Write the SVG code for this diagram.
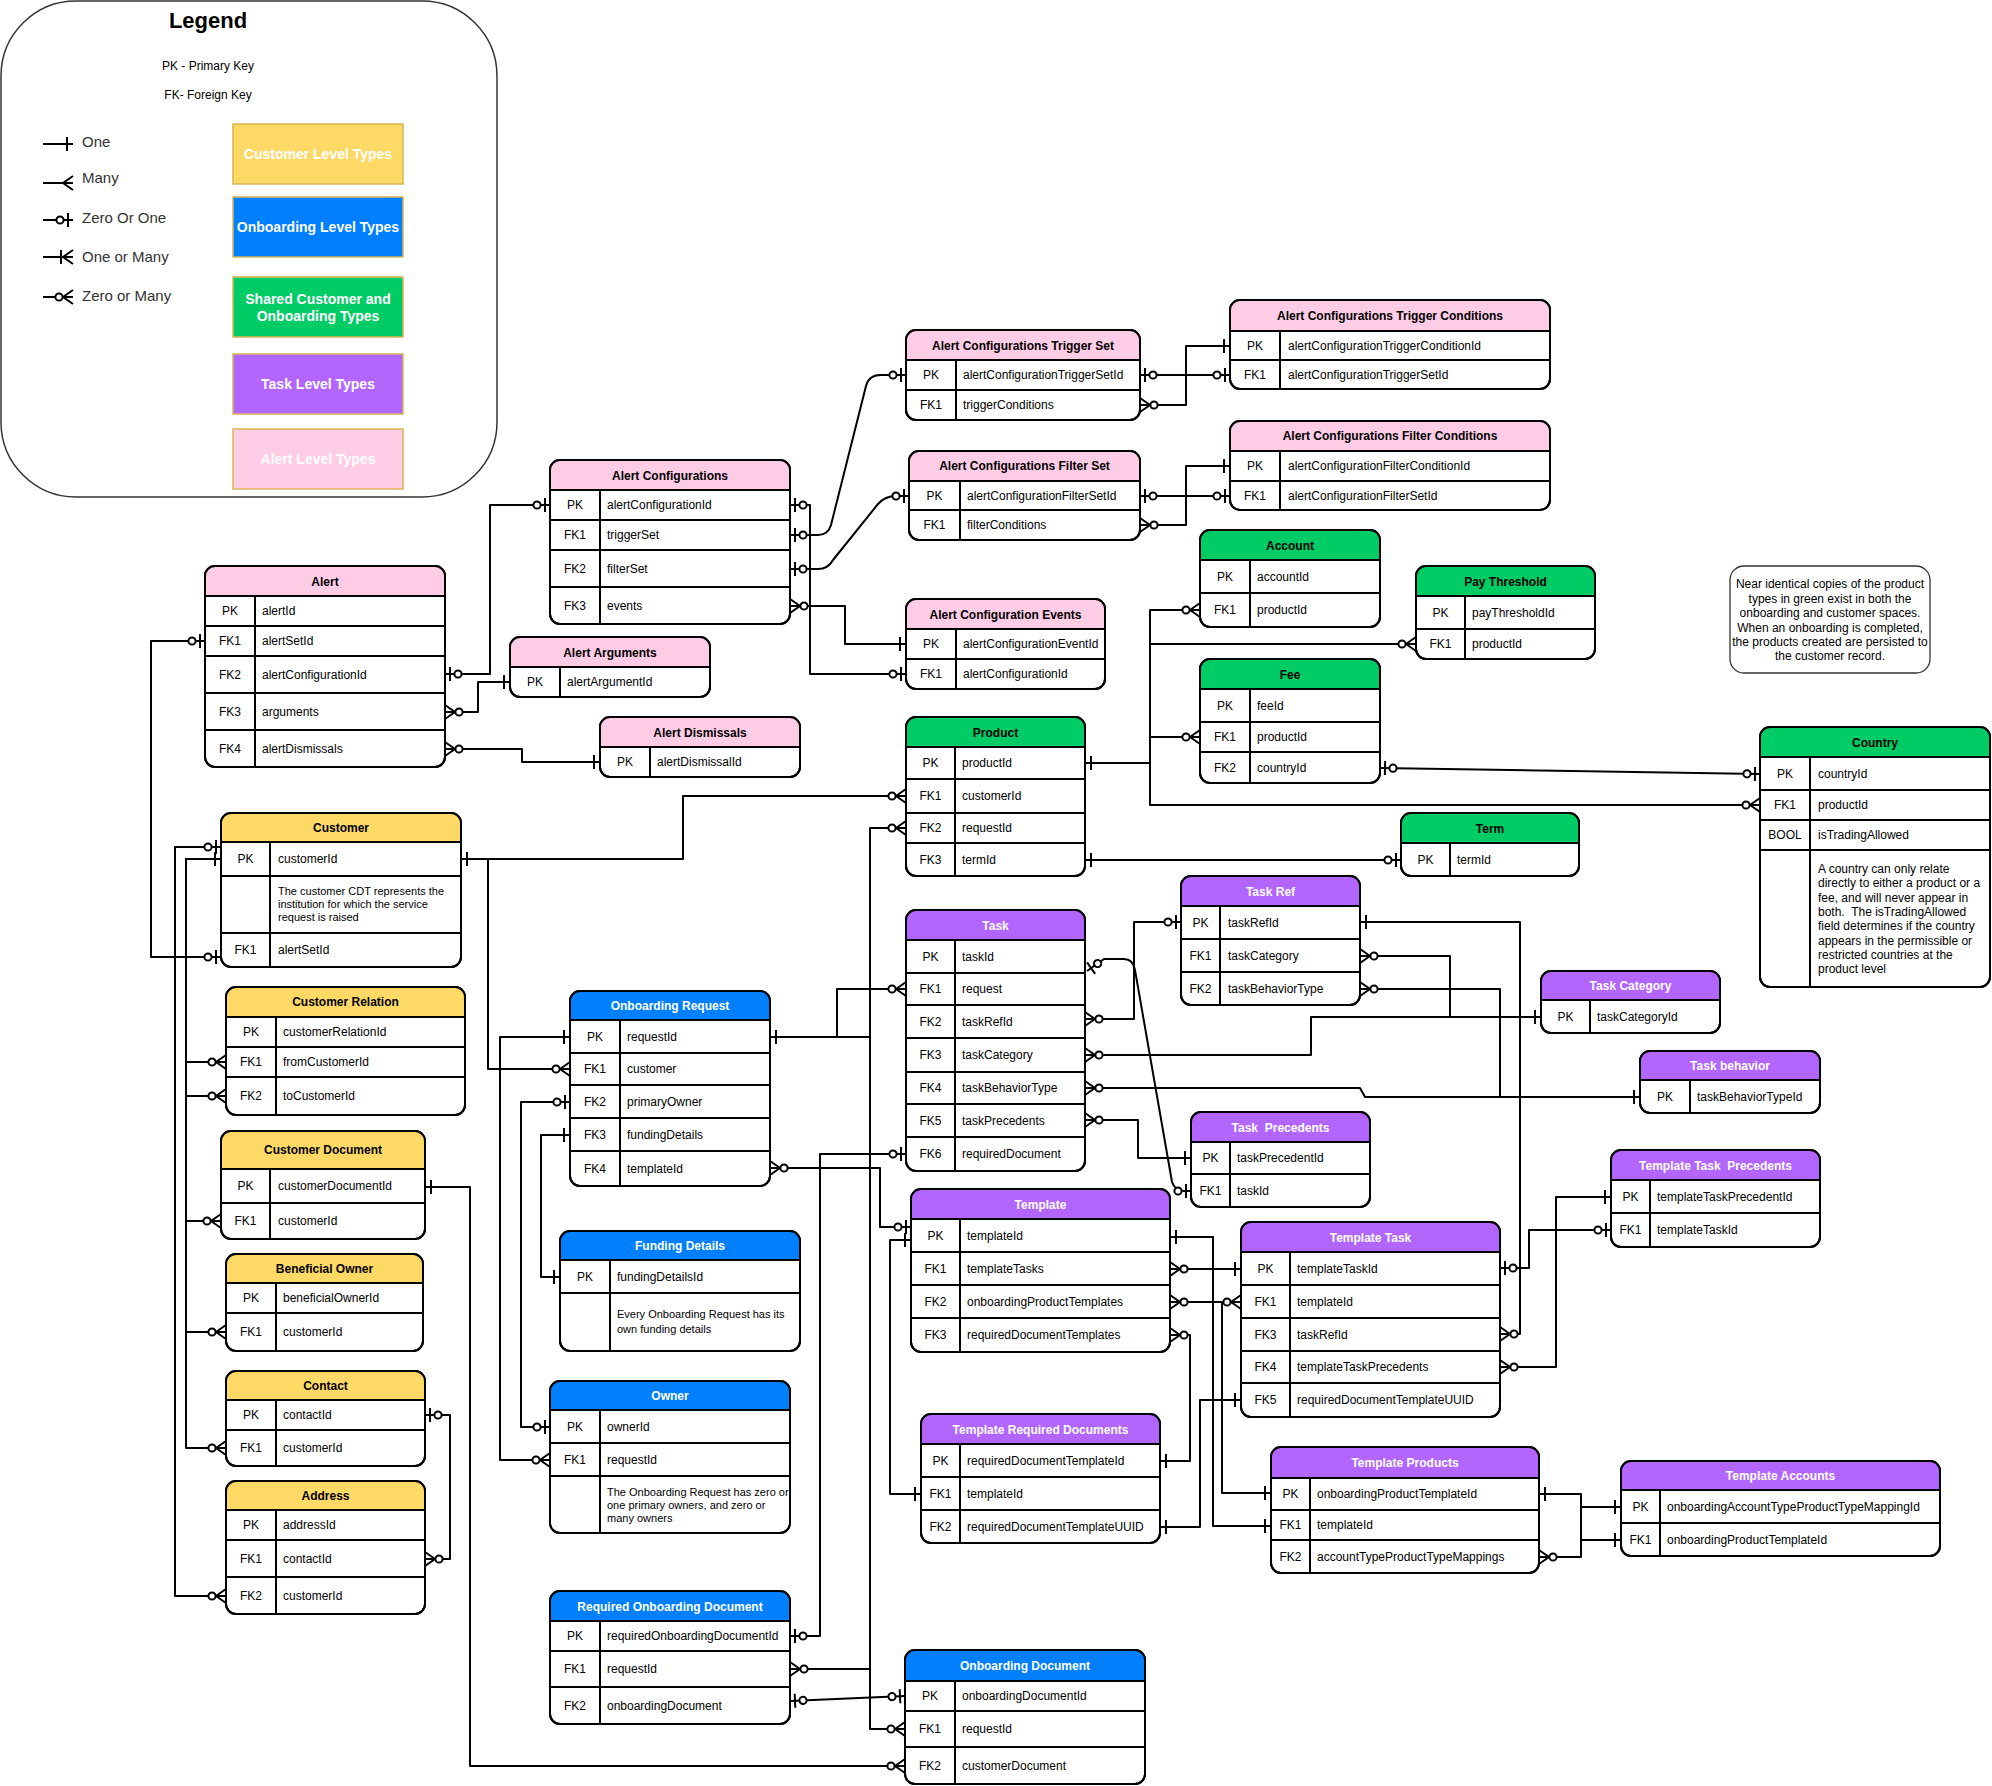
<svg xmlns="http://www.w3.org/2000/svg" width="1992" height="1786" viewBox="0 0 1992 1786">
<style>
.tb{fill:#fff;stroke:#000;stroke-width:2}
.ol{fill:none;stroke:#000;stroke-width:2}
.ln{fill:none;stroke:#000;stroke-width:2}
.pk{fill:#FFCCE6}.gr{fill:#00CC66}.ye{fill:#FFD966}.bl{fill:#007FFF}.pu{fill:#B266FF}
text{font-family:"Liberation Sans",Arial,sans-serif;font-size:12px;fill:#000}
.h{font-weight:bold;text-anchor:middle}
.hw{font-weight:bold;text-anchor:middle;fill:#fff}
.k{text-anchor:middle}
.d{font-size:11px}
.cn{fill:none;stroke:#000;stroke-width:2;stroke-linejoin:round}
.s1{marker-start:url(#m1)}.s01{marker-start:url(#m01)}.s0n{marker-start:url(#m0n)}
.e1{marker-end:url(#m1)}.e01{marker-end:url(#m01)}.e0n{marker-end:url(#m0n)}
.lgb{stroke:#D6B656;stroke-width:1.5}
.lgt{font-size:14px;font-weight:bold;fill:#fff;text-anchor:middle}
.lgl{font-size:15px;fill:#333}
.ttl{font-size:22px;font-weight:bold;text-anchor:middle}
</style>
<defs>
<marker id="m1" viewBox="-22 -10 24 20" refX="0" refY="0" markerWidth="24" markerHeight="20" markerUnits="userSpaceOnUse" orient="auto-start-reverse">
<path d="M-6,-7V7" fill="none" stroke="#000" stroke-width="2"/>
</marker>
<marker id="m01" viewBox="-22 -10 24 20" refX="0" refY="0" markerWidth="24" markerHeight="20" markerUnits="userSpaceOnUse" orient="auto-start-reverse">
<path d="M-5,-7V7" fill="none" stroke="#000" stroke-width="2"/>
<circle cx="-13" cy="0" r="3.6" fill="#fff" stroke="#000" stroke-width="2"/>
</marker>
<marker id="m0n" viewBox="-22 -10 24 20" refX="0" refY="0" markerWidth="24" markerHeight="20" markerUnits="userSpaceOnUse" orient="auto-start-reverse">
<path d="M0,-7L-10,0L0,7" fill="none" stroke="#000" stroke-width="2"/>
<circle cx="-14" cy="0" r="3.6" fill="#fff" stroke="#000" stroke-width="2"/>
</marker>
<marker id="mn" viewBox="-22 -10 24 20" refX="0" refY="0" markerWidth="24" markerHeight="20" markerUnits="userSpaceOnUse" orient="auto-start-reverse">
<path d="M0,-7L-10,0L0,7" fill="none" stroke="#000" stroke-width="2"/>
</marker>
<marker id="m1n" viewBox="-22 -10 24 20" refX="0" refY="0" markerWidth="24" markerHeight="20" markerUnits="userSpaceOnUse" orient="auto-start-reverse">
<path d="M0,-7L-10,0L0,7M-12,-7V7" fill="none" stroke="#000" stroke-width="2"/>
</marker>
</defs>

<g id="legend">
<rect x="1" y="1" width="496" height="496" rx="75" fill="#fff" stroke="#333" stroke-width="1.5"/>
<text class="ttl" x="208" y="28">Legend</text>
<text x="208" y="70" text-anchor="middle" fill="#222">PK - Primary Key</text>
<text x="208" y="99" text-anchor="middle" fill="#222">FK- Foreign Key</text>
<path class="cn" d="M43,144H73" marker-end="url(#m1)"/>
<path class="cn" d="M43,183H73" marker-end="url(#mn)"/>
<path class="cn" d="M43,220H73" marker-end="url(#m01)"/>
<path class="cn" d="M43,257H73" marker-end="url(#m1n)"/>
<path class="cn" d="M43,297H73" marker-end="url(#m0n)"/>
<text class="lgl" x="82" y="147">One</text>
<text class="lgl" x="82" y="183">Many</text>
<text class="lgl" x="82" y="223">Zero Or One</text>
<text class="lgl" x="82" y="262">One or Many</text>
<text class="lgl" x="82" y="301">Zero or Many</text>
<rect class="ye lgb" x="233" y="124" width="170" height="60"/>
<text class="lgt" x="318" y="159">Customer Level Types</text>
<rect class="bl lgb" x="233" y="197" width="170" height="60"/>
<text class="lgt" x="318" y="232">Onboarding Level Types</text>
<rect class="gr lgb" x="233" y="277" width="170" height="60"/>
<text class="lgt" x="318" y="304">Shared Customer and</text>
<text class="lgt" x="318" y="321">Onboarding Types</text>
<rect class="pu lgb" x="233" y="354" width="170" height="60"/>
<text class="lgt" x="318" y="389">Task Level Types</text>
<rect class="pk lgb" x="233" y="429" width="170" height="60"/>
<text class="lgt" x="318" y="464">Alert Level Types</text>
</g>

<g id="connectors">
<path class="cn s01 e01" d="M445,674H490V505H550"/>
<path class="cn s0n e1" d="M445,712H478V682H510"/>
<path class="cn s0n e1" d="M445,749H522V762H600"/>
<path class="cn s01 e01" d="M205,641H151V957H221"/>
<path class="cn s01 e01" d="M790,505H810V674H906"/>
<path class="cn s01 e01" d="M790,535H818Q828,535 831,525L866,386Q869,375 880,375H906"/>
<path class="cn s01 e01" d="M790,569H818Q828,569 833,560L878,504Q885,496 896,496H909"/>
<path class="cn s0n e1" d="M790,606H845V644H906"/>
<path class="cn s01 e01" d="M1140,375H1230"/>
<path class="cn s0n e1" d="M1140,405H1186V346H1230"/>
<path class="cn s01 e01" d="M1140,496H1230"/>
<path class="cn s0n e1" d="M1140,525H1186V466H1230"/>
<path class="cn s1 e0n" d="M1085,763H1150V610H1200"/>
<path class="cn s1 e0n" d="M1085,763H1150V644H1416"/>
<path class="cn s1 e0n" d="M1085,763H1150V737H1200"/>
<path class="cn s1 e0n" d="M1085,763H1150V805H1760"/>
<path class="cn s01 e01" d="M1380,768L1760,774"/>
<path class="cn s1 e01" d="M1085,860H1401"/>
<path class="cn s1 e0n" d="M461,859H683V796H906"/>
<path class="cn s1 e0n" d="M461,859H488V1069H570"/>
<path class="cn s1 e0n" d="M221,859H186V1062H226"/>
<path class="cn s1 e0n" d="M221,859H186V1096H226"/>
<path class="cn s1 e0n" d="M221,859H186V1221H221"/>
<path class="cn s1 e0n" d="M221,859H186V1332H226"/>
<path class="cn s1 e0n" d="M221,859H186V1448H226"/>
<path class="cn s01 e0n" d="M221,847H175V1596H226"/>
<path class="cn s01 e0n" d="M425,1415H450V1559H425"/>
<path class="cn s1 e0n" d="M425,1187H470V1766H905"/>
<path class="cn s1 e0n" d="M770,1037H837V989H906"/>
<path class="cn s1 e0n" d="M770,1037H870V828H906"/>
<path class="cn s1 e0n" d="M770,1037H870V1669H790"/>
<path class="cn s1 e0n" d="M770,1037H870V1729H905"/>
<path class="cn s1 e0n" d="M570,1037H500V1460H550"/>
<path class="cn s01 e01" d="M570,1102H521V1427H550"/>
<path class="cn s1 e1" d="M570,1135H541V1277H560"/>
<path class="cn s0n e01" d="M770,1168H880V1227H911"/>
<path class="cn s01 e01" d="M790,1636H820V1154H906"/>
<path class="cn s01 e01" d="M790,1701L905,1696"/>
<path class="cn s1 e1" d="M911,1240H890V1494H921"/>
<path class="cn s0n e01" d="M1085,1019H1134V922H1181"/>
<path class="cn s01 e01" d="M1087,971L1104,959H1124Q1133,959 1135,970L1172,1182Q1175,1191 1184,1191H1191"/>
<path class="cn s0n e1" d="M1085,1120H1138V1158H1191"/>
<path class="cn s0n e1" d="M1085,1055H1311V1017H1541"/>
<path class="cn s0n e1" d="M1085,1088H1360L1365,1097H1640"/>
<path class="cn s0n e1" d="M1360,956H1450V1017H1541"/>
<path class="cn s0n e1" d="M1360,989H1500V1097H1640"/>
<path class="cn s1 e0n" d="M1360,922H1520V1334H1500"/>
<path class="cn s01 e01" d="M1500,1268H1529V1230H1611"/>
<path class="cn s0n e1" d="M1500,1367H1556V1197H1611"/>
<path class="cn s1 e1" d="M1170,1237H1213V1526H1271"/>
<path class="cn s1 e0n" d="M1170,1237H1213V1302H1241"/>
<path class="cn s0n e1" d="M1170,1302H1222V1493H1271"/>
<path class="cn s0n e1" d="M1170,1269H1241"/>
<path class="cn s0n e1" d="M1170,1335H1190V1461H1160"/>
<path class="cn s1 e1" d="M1160,1527H1200V1400H1241"/>
<path class="cn s1 e1" d="M1539,1494H1581V1540H1621"/>
<path class="cn s0n e1" d="M1539,1557H1581V1507H1621"/>
</g>

<g id="alert-configurations-trigger-set">
<rect class="tb" x="906" y="330" width="234" height="90" rx="10"/>
<path class="pk" d="M906,360V340Q906,330 916,330H1130Q1140,330 1140,340V360Z"/>
<path class="ln" d="M906,360H1140M906,390H1140M956,360V420"/>
<rect class="ol" x="906" y="330" width="234" height="90" rx="10"/>
<text class="h" x="1023" y="350">Alert Configurations Trigger Set</text>
<text class="k" x="931" y="379">PK</text><text x="963" y="379">alertConfigurationTriggerSetId</text>
<text class="k" x="931" y="409">FK1</text><text x="963" y="409">triggerConditions</text>
</g>

<g id="alert-configurations-trigger-conditions">
<rect class="tb" x="1230" y="300" width="320" height="89" rx="10"/>
<path class="pk" d="M1230,331V310Q1230,300 1240,300H1540Q1550,300 1550,310V331Z"/>
<path class="ln" d="M1230,331H1550M1230,360H1550M1280,331V389"/>
<rect class="ol" x="1230" y="300" width="320" height="89" rx="10"/>
<text class="h" x="1390" y="320">Alert Configurations Trigger Conditions</text>
<text class="k" x="1255" y="350">PK</text><text x="1288" y="350">alertConfigurationTriggerConditionId</text>
<text class="k" x="1255" y="379">FK1</text><text x="1288" y="379">alertConfigurationTriggerSetId</text>
</g>

<g id="alert-configurations-filter-set">
<rect class="tb" x="909" y="451" width="231" height="89" rx="10"/>
<path class="pk" d="M909,481V461Q909,451 919,451H1130Q1140,451 1140,461V481Z"/>
<path class="ln" d="M909,481H1140M909,510H1140M960,481V540"/>
<rect class="ol" x="909" y="451" width="231" height="89" rx="10"/>
<text class="h" x="1024.5" y="470">Alert Configurations Filter Set</text>
<text class="k" x="934.5" y="500">PK</text><text x="967" y="500">alertConfigurationFilterSetId</text>
<text class="k" x="934.5" y="529">FK1</text><text x="967" y="529">filterConditions</text>
</g>

<g id="alert-configurations-filter-conditions">
<rect class="tb" x="1230" y="421" width="320" height="89" rx="10"/>
<path class="pk" d="M1230,451V431Q1230,421 1240,421H1540Q1550,421 1550,431V451Z"/>
<path class="ln" d="M1230,451H1550M1230,481H1550M1280,451V510"/>
<rect class="ol" x="1230" y="421" width="320" height="89" rx="10"/>
<text class="h" x="1390" y="440">Alert Configurations Filter Conditions</text>
<text class="k" x="1255" y="470">PK</text><text x="1288" y="470">alertConfigurationFilterConditionId</text>
<text class="k" x="1255" y="500">FK1</text><text x="1288" y="500">alertConfigurationFilterSetId</text>
</g>

<g id="alert-configurations">
<rect class="tb" x="550" y="460" width="240" height="164" rx="10"/>
<path class="pk" d="M550,490V470Q550,460 560,460H780Q790,460 790,470V490Z"/>
<path class="ln" d="M550,490H790M550,520H790M550,550H790M550,587H790M600,490V624"/>
<rect class="ol" x="550" y="460" width="240" height="164" rx="10"/>
<text class="h" x="670" y="480">Alert Configurations</text>
<text class="k" x="575" y="509">PK</text><text x="607" y="509">alertConfigurationId</text>
<text class="k" x="575" y="539">FK1</text><text x="607" y="539">triggerSet</text>
<text class="k" x="575" y="573">FK2</text><text x="607" y="573">filterSet</text>
<text class="k" x="575" y="610">FK3</text><text x="607" y="610">events</text>
</g>

<g id="alert">
<rect class="tb" x="205" y="566" width="240" height="201" rx="10"/>
<path class="pk" d="M205,596V576Q205,566 215,566H435Q445,566 445,576V596Z"/>
<path class="ln" d="M205,596H445M205,626H445M205,656H445M205,693H445M205,730H445M255,596V767"/>
<rect class="ol" x="205" y="566" width="240" height="201" rx="10"/>
<text class="h" x="325" y="586">Alert</text>
<text class="k" x="230" y="615">PK</text><text x="262" y="615">alertId</text>
<text class="k" x="230" y="645">FK1</text><text x="262" y="645">alertSetId</text>
<text class="k" x="230" y="679">FK2</text><text x="262" y="679">alertConfigurationId</text>
<text class="k" x="230" y="716">FK3</text><text x="262" y="716">arguments</text>
<text class="k" x="230" y="753">FK4</text><text x="262" y="753">alertDismissals</text>
</g>

<g id="alert-arguments">
<rect class="tb" x="510" y="637" width="200" height="60" rx="10"/>
<path class="pk" d="M510,667V647Q510,637 520,637H700Q710,637 710,647V667Z"/>
<path class="ln" d="M510,667H710M560,667V697"/>
<rect class="ol" x="510" y="637" width="200" height="60" rx="10"/>
<text class="h" x="610" y="657">Alert Arguments</text>
<text class="k" x="535" y="686">PK</text><text x="567" y="686">alertArgumentId</text>
</g>

<g id="alert-dismissals">
<rect class="tb" x="600" y="717" width="200" height="60" rx="10"/>
<path class="pk" d="M600,747V727Q600,717 610,717H790Q800,717 800,727V747Z"/>
<path class="ln" d="M600,747H800M650,747V777"/>
<rect class="ol" x="600" y="717" width="200" height="60" rx="10"/>
<text class="h" x="700" y="737">Alert Dismissals</text>
<text class="k" x="625" y="766">PK</text><text x="657" y="766">alertDismissalId</text>
</g>

<g id="alert-configuration-events">
<rect class="tb" x="906" y="599" width="199" height="90" rx="10"/>
<path class="pk" d="M906,629V609Q906,599 916,599H1095Q1105,599 1105,609V629Z"/>
<path class="ln" d="M906,629H1105M906,659H1105M956,629V689"/>
<rect class="ol" x="906" y="599" width="199" height="90" rx="10"/>
<text class="h" x="1005.5" y="619">Alert Configuration Events</text>
<text class="k" x="931" y="648">PK</text><text x="963" y="648">alertConfigurationEventId</text>
<text class="k" x="931" y="678">FK1</text><text x="963" y="678">alertConfigurationId</text>
</g>

<g id="account">
<rect class="tb" x="1200" y="530" width="180" height="97" rx="10"/>
<path class="gr" d="M1200,560V540Q1200,530 1210,530H1370Q1380,530 1380,540V560Z"/>
<path class="ln" d="M1200,560H1380M1200,593H1380M1250,560V627"/>
<rect class="ol" x="1200" y="530" width="180" height="97" rx="10"/>
<text class="h" x="1290" y="550">Account</text>
<text class="k" x="1225" y="581">PK</text><text x="1257" y="581">accountId</text>
<text class="k" x="1225" y="614">FK1</text><text x="1257" y="614">productId</text>
</g>

<g id="pay-threshold">
<rect class="tb" x="1416" y="566" width="179" height="93" rx="10"/>
<path class="gr" d="M1416,596V576Q1416,566 1426,566H1585Q1595,566 1595,576V596Z"/>
<path class="ln" d="M1416,596H1595M1416,629H1595M1465,596V659"/>
<rect class="ol" x="1416" y="566" width="179" height="93" rx="10"/>
<text class="h" x="1505.5" y="586">Pay Threshold</text>
<text class="k" x="1440.5" y="617">PK</text><text x="1472" y="617">payThresholdId</text>
<text class="k" x="1440.5" y="648">FK1</text><text x="1472" y="648">productId</text>
</g>

<g id="fee">
<rect class="tb" x="1200" y="659" width="180" height="124" rx="10"/>
<path class="gr" d="M1200,689V669Q1200,659 1210,659H1370Q1380,659 1380,669V689Z"/>
<path class="ln" d="M1200,689H1380M1200,722H1380M1200,752H1380M1250,689V783"/>
<rect class="ol" x="1200" y="659" width="180" height="124" rx="10"/>
<text class="h" x="1290" y="679">Fee</text>
<text class="k" x="1225" y="710">PK</text><text x="1257" y="710">feeId</text>
<text class="k" x="1225" y="741">FK1</text><text x="1257" y="741">productId</text>
<text class="k" x="1225" y="772">FK2</text><text x="1257" y="772">countryId</text>
</g>

<g id="product">
<rect class="tb" x="906" y="717" width="179" height="159" rx="10"/>
<path class="gr" d="M906,747V727Q906,717 916,717H1075Q1085,717 1085,727V747Z"/>
<path class="ln" d="M906,747H1085M906,779H1085M906,813H1085M906,843H1085M955,747V876"/>
<rect class="ol" x="906" y="717" width="179" height="159" rx="10"/>
<text class="h" x="995.5" y="737">Product</text>
<text class="k" x="930.5" y="767">PK</text><text x="962" y="767">productId</text>
<text class="k" x="930.5" y="800">FK1</text><text x="962" y="800">customerId</text>
<text class="k" x="930.5" y="832">FK2</text><text x="962" y="832">requestId</text>
<text class="k" x="930.5" y="864">FK3</text><text x="962" y="864">termId</text>
</g>

<g id="term">
<rect class="tb" x="1401" y="813" width="178" height="63" rx="10"/>
<path class="gr" d="M1401,843V823Q1401,813 1411,813H1569Q1579,813 1579,823V843Z"/>
<path class="ln" d="M1401,843H1579M1450,843V876"/>
<rect class="ol" x="1401" y="813" width="178" height="63" rx="10"/>
<text class="h" x="1490" y="833">Term</text>
<text class="k" x="1425.5" y="864">PK</text><text x="1457" y="864">termId</text>
</g>

<g id="country">
<rect class="tb" x="1760" y="727" width="230" height="260" rx="10"/>
<path class="gr" d="M1760,757V737Q1760,727 1770,727H1980Q1990,727 1990,737V757Z"/>
<path class="ln" d="M1760,757H1990M1760,790H1990M1760,820H1990M1760,850H1990M1810,757V987"/>
<rect class="ol" x="1760" y="727" width="230" height="260" rx="10"/>
<text class="h" x="1875" y="747">Country</text>
<text class="k" x="1785" y="778">PK</text><text x="1818" y="778">countryId</text>
<text class="k" x="1785" y="809">FK1</text><text x="1818" y="809">productId</text>
<text class="k" x="1785" y="839">BOOL</text><text x="1818" y="839">isTradingAllowed</text>
<text x="1818" y="873">A country can only relate</text>
<text x="1818" y="887">directly to either a product or a</text>
<text x="1818" y="902">fee, and will never appear in</text>
<text x="1818" y="916" xml:space="preserve">both.  The isTradingAllowed</text>
<text x="1818" y="930">field determines if the country</text>
<text x="1818" y="945">appears in the permissible or</text>
<text x="1818" y="959">restricted countries at the</text>
<text x="1818" y="973">product level</text>
</g>

<g id="note">
<rect x="1730" y="566" width="200" height="107" rx="14" fill="#fff" stroke="#333" stroke-width="1.3"/>
<text class="k" x="1830" y="588">Near identical copies of the product</text>
<text class="k" x="1830" y="603">types in green exist in both the</text>
<text class="k" x="1830" y="617">onboarding and customer spaces.</text>
<text class="k" x="1830" y="632">When an onboarding is completed,</text>
<text class="k" x="1830" y="646">the products created are persisted to</text>
<text class="k" x="1830" y="660">the customer record.</text>
</g>

<g id="customer">
<rect class="tb" x="221" y="813" width="240" height="154" rx="10"/>
<path class="ye" d="M221,842V823Q221,813 231,813H451Q461,813 461,823V842Z"/>
<path class="ln" d="M221,842H461M221,876H461M221,933H461M270,842V967"/>
<rect class="ol" x="221" y="813" width="240" height="154" rx="10"/>
<text class="h" x="341" y="832">Customer</text>
<text class="k" x="245.5" y="863">PK</text><text x="278" y="863">customerId</text>
<text class="d" x="278" y="895">The customer CDT represents the</text>
<text class="d" x="278" y="908">institution for which the service</text>
<text class="d" x="278" y="921">request is raised</text>
<text class="k" x="245.5" y="954">FK1</text><text x="278" y="954">alertSetId</text>
</g>

<g id="customer-relation">
<rect class="tb" x="226" y="987" width="239" height="128" rx="10"/>
<path class="ye" d="M226,1017V997Q226,987 236,987H455Q465,987 465,997V1017Z"/>
<path class="ln" d="M226,1017H465M226,1047H465M226,1077H465M276,1017V1115"/>
<rect class="ol" x="226" y="987" width="239" height="128" rx="10"/>
<text class="h" x="345.5" y="1006">Customer Relation</text>
<text class="k" x="251" y="1036">PK</text><text x="283" y="1036">customerRelationId</text>
<text class="k" x="251" y="1066">FK1</text><text x="283" y="1066">fromCustomerId</text>
<text class="k" x="251" y="1100">FK2</text><text x="283" y="1100">toCustomerId</text>
</g>

<g id="customer-document">
<rect class="tb" x="221" y="1131" width="204" height="108" rx="10"/>
<path class="ye" d="M221,1169V1141Q221,1131 231,1131H415Q425,1131 425,1141V1169Z"/>
<path class="ln" d="M221,1169H425M221,1203H425M270,1169V1239"/>
<rect class="ol" x="221" y="1131" width="204" height="108" rx="10"/>
<text class="h" x="323" y="1154">Customer Document</text>
<text class="k" x="245.5" y="1190">PK</text><text x="278" y="1190">customerDocumentId</text>
<text class="k" x="245.5" y="1225">FK1</text><text x="278" y="1225">customerId</text>
</g>

<g id="beneficial-owner">
<rect class="tb" x="226" y="1254" width="197" height="97" rx="10"/>
<path class="ye" d="M226,1283V1264Q226,1254 236,1254H413Q423,1254 423,1264V1283Z"/>
<path class="ln" d="M226,1283H423M226,1313H423M276,1283V1351"/>
<rect class="ol" x="226" y="1254" width="197" height="97" rx="10"/>
<text class="h" x="324.5" y="1273">Beneficial Owner</text>
<text class="k" x="251" y="1302">PK</text><text x="283" y="1302">beneficialOwnerId</text>
<text class="k" x="251" y="1336">FK1</text><text x="283" y="1336">customerId</text>
</g>

<g id="contact">
<rect class="tb" x="226" y="1371" width="199" height="95" rx="10"/>
<path class="ye" d="M226,1400V1381Q226,1371 236,1371H415Q425,1371 425,1381V1400Z"/>
<path class="ln" d="M226,1400H425M226,1430H425M276,1400V1466"/>
<rect class="ol" x="226" y="1371" width="199" height="95" rx="10"/>
<text class="h" x="325.5" y="1390">Contact</text>
<text class="k" x="251" y="1419">PK</text><text x="283" y="1419">contactId</text>
<text class="k" x="251" y="1452">FK1</text><text x="283" y="1452">customerId</text>
</g>

<g id="address">
<rect class="tb" x="226" y="1481" width="199" height="133" rx="10"/>
<path class="ye" d="M226,1510V1491Q226,1481 236,1481H415Q425,1481 425,1491V1510Z"/>
<path class="ln" d="M226,1510H425M226,1540H425M226,1577H425M276,1510V1614"/>
<rect class="ol" x="226" y="1481" width="199" height="133" rx="10"/>
<text class="h" x="325.5" y="1500">Address</text>
<text class="k" x="251" y="1529">PK</text><text x="283" y="1529">addressId</text>
<text class="k" x="251" y="1563">FK1</text><text x="283" y="1563">contactId</text>
<text class="k" x="251" y="1600">FK2</text><text x="283" y="1600">customerId</text>
</g>

<g id="onboarding-request">
<rect class="tb" x="570" y="991" width="200" height="195" rx="10"/>
<path class="bl" d="M570,1020V1001Q570,991 580,991H760Q770,991 770,1001V1020Z"/>
<path class="ln" d="M570,1020H770M570,1053H770M570,1085H770M570,1118H770M570,1151H770M620,1020V1186"/>
<rect class="ol" x="570" y="991" width="200" height="195" rx="10"/>
<text class="hw" x="670" y="1010">Onboarding Request</text>
<text class="k" x="595" y="1041">PK</text><text x="627" y="1041">requestId</text>
<text class="k" x="595" y="1073">FK1</text><text x="627" y="1073">customer</text>
<text class="k" x="595" y="1106">FK2</text><text x="627" y="1106">primaryOwner</text>
<text class="k" x="595" y="1139">FK3</text><text x="627" y="1139">fundingDetails</text>
<text class="k" x="595" y="1173">FK4</text><text x="627" y="1173">templateId</text>
</g>

<g id="funding-details">
<rect class="tb" x="560" y="1231" width="240" height="120" rx="10"/>
<path class="bl" d="M560,1260V1241Q560,1231 570,1231H790Q800,1231 800,1241V1260Z"/>
<path class="ln" d="M560,1260H800M560,1293H800M610,1260V1351"/>
<rect class="ol" x="560" y="1231" width="240" height="120" rx="10"/>
<text class="hw" x="680" y="1250">Funding Details</text>
<text class="k" x="585" y="1281">PK</text><text x="617" y="1281">fundingDetailsId</text>
<text class="d" x="617" y="1318">Every Onboarding Request has its</text>
<text class="d" x="617" y="1333">own funding details</text>
</g>

<g id="owner">
<rect class="tb" x="550" y="1381" width="240" height="152" rx="10"/>
<path class="bl" d="M550,1410V1391Q550,1381 560,1381H780Q790,1381 790,1391V1410Z"/>
<path class="ln" d="M550,1410H790M550,1443H790M550,1476H790M600,1410V1533"/>
<rect class="ol" x="550" y="1381" width="240" height="152" rx="10"/>
<text class="hw" x="670" y="1400">Owner</text>
<text class="k" x="575" y="1431">PK</text><text x="607" y="1431">ownerId</text>
<text class="k" x="575" y="1464">FK1</text><text x="607" y="1464">requestId</text>
<text class="d" x="607" y="1496">The Onboarding Request has zero or</text>
<text class="d" x="607" y="1509">one primary owners, and zero or</text>
<text class="d" x="607" y="1522">many owners</text>
</g>

<g id="required-onboarding-document">
<rect class="tb" x="550" y="1591" width="240" height="133" rx="10"/>
<path class="bl" d="M550,1621V1601Q550,1591 560,1591H780Q790,1591 790,1601V1621Z"/>
<path class="ln" d="M550,1621H790M550,1651H790M550,1687H790M600,1621V1724"/>
<rect class="ol" x="550" y="1591" width="240" height="133" rx="10"/>
<text class="hw" x="670" y="1611">Required Onboarding Document</text>
<text class="k" x="575" y="1640">PK</text><text x="607" y="1640">requiredOnboardingDocumentId</text>
<text class="k" x="575" y="1673">FK1</text><text x="607" y="1673">requestId</text>
<text class="k" x="575" y="1710">FK2</text><text x="607" y="1710">onboardingDocument</text>
</g>

<g id="onboarding-document">
<rect class="tb" x="905" y="1650" width="240" height="134" rx="10"/>
<path class="bl" d="M905,1681V1660Q905,1650 915,1650H1135Q1145,1650 1145,1660V1681Z"/>
<path class="ln" d="M905,1681H1145M905,1711H1145M905,1747H1145M955,1681V1784"/>
<rect class="ol" x="905" y="1650" width="240" height="134" rx="10"/>
<text class="hw" x="1025" y="1670">Onboarding Document</text>
<text class="k" x="930" y="1700">PK</text><text x="962" y="1700">onboardingDocumentId</text>
<text class="k" x="930" y="1733">FK1</text><text x="962" y="1733">requestId</text>
<text class="k" x="930" y="1770">FK2</text><text x="962" y="1770">customerDocument</text>
</g>

<g id="task">
<rect class="tb" x="906" y="910" width="179" height="261" rx="10"/>
<path class="pu" d="M906,940V920Q906,910 916,910H1075Q1085,910 1085,920V940Z"/>
<path class="ln" d="M906,940H1085M906,973H1085M906,1005H1085M906,1038H1085M906,1072H1085M906,1104H1085M906,1137H1085M955,940V1171"/>
<rect class="ol" x="906" y="910" width="179" height="261" rx="10"/>
<text class="hw" x="995.5" y="930">Task</text>
<text class="k" x="930.5" y="961">PK</text><text x="962" y="961">taskId</text>
<text class="k" x="930.5" y="993">FK1</text><text x="962" y="993">request</text>
<text class="k" x="930.5" y="1026">FK2</text><text x="962" y="1026">taskRefId</text>
<text class="k" x="930.5" y="1059">FK3</text><text x="962" y="1059">taskCategory</text>
<text class="k" x="930.5" y="1092">FK4</text><text x="962" y="1092">taskBehaviorType</text>
<text class="k" x="930.5" y="1125">FK5</text><text x="962" y="1125">taskPrecedents</text>
<text class="k" x="930.5" y="1158">FK6</text><text x="962" y="1158">requiredDocument</text>
</g>

<g id="task-ref">
<rect class="tb" x="1181" y="876" width="179" height="129" rx="10"/>
<path class="pu" d="M1181,906V886Q1181,876 1191,876H1350Q1360,876 1360,886V906Z"/>
<path class="ln" d="M1181,906H1360M1181,939H1360M1181,972H1360M1220,906V1005"/>
<rect class="ol" x="1181" y="876" width="179" height="129" rx="10"/>
<text class="hw" x="1270.5" y="896">Task Ref</text>
<text class="k" x="1200.5" y="927">PK</text><text x="1228" y="927">taskRefId</text>
<text class="k" x="1200.5" y="960">FK1</text><text x="1228" y="960">taskCategory</text>
<text class="k" x="1200.5" y="993">FK2</text><text x="1228" y="993">taskBehaviorType</text>
</g>

<g id="task-category">
<rect class="tb" x="1541" y="971" width="179" height="62" rx="10"/>
<path class="pu" d="M1541,1000V981Q1541,971 1551,971H1710Q1720,971 1720,981V1000Z"/>
<path class="ln" d="M1541,1000H1720M1590,1000V1033"/>
<rect class="ol" x="1541" y="971" width="179" height="62" rx="10"/>
<text class="hw" x="1630.5" y="990">Task Category</text>
<text class="k" x="1565.5" y="1021">PK</text><text x="1597" y="1021">taskCategoryId</text>
</g>

<g id="task-behavior">
<rect class="tb" x="1640" y="1051" width="180" height="62" rx="10"/>
<path class="pu" d="M1640,1080V1061Q1640,1051 1650,1051H1810Q1820,1051 1820,1061V1080Z"/>
<path class="ln" d="M1640,1080H1820M1690,1080V1113"/>
<rect class="ol" x="1640" y="1051" width="180" height="62" rx="10"/>
<text class="hw" x="1730" y="1070">Task behavior</text>
<text class="k" x="1665" y="1101">PK</text><text x="1697" y="1101">taskBehaviorTypeId</text>
</g>

<g id="task-precedents">
<rect class="tb" x="1191" y="1112" width="179" height="95" rx="10"/>
<path class="pu" d="M1191,1142V1122Q1191,1112 1201,1112H1360Q1370,1112 1370,1122V1142Z"/>
<path class="ln" d="M1191,1142H1370M1191,1174H1370M1230,1142V1207"/>
<rect class="ol" x="1191" y="1112" width="179" height="95" rx="10"/>
<text class="hw" x="1280.5" y="1132" xml:space="preserve">Task  Precedents</text>
<text class="k" x="1210.5" y="1162">PK</text><text x="1237" y="1162">taskPrecedentId</text>
<text class="k" x="1210.5" y="1195">FK1</text><text x="1237" y="1195">taskId</text>
</g>

<g id="template-task-precedents">
<rect class="tb" x="1611" y="1150" width="209" height="97" rx="10"/>
<path class="pu" d="M1611,1180V1160Q1611,1150 1621,1150H1810Q1820,1150 1820,1160V1180Z"/>
<path class="ln" d="M1611,1180H1820M1611,1213H1820M1650,1180V1247"/>
<rect class="ol" x="1611" y="1150" width="209" height="97" rx="10"/>
<text class="hw" x="1715.5" y="1170" xml:space="preserve">Template Task  Precedents</text>
<text class="k" x="1630.5" y="1201">PK</text><text x="1657" y="1201">templateTaskPrecedentId</text>
<text class="k" x="1630.5" y="1234">FK1</text><text x="1657" y="1234">templateTaskId</text>
</g>

<g id="template">
<rect class="tb" x="911" y="1189" width="259" height="163" rx="10"/>
<path class="pu" d="M911,1219V1199Q911,1189 921,1189H1160Q1170,1189 1170,1199V1219Z"/>
<path class="ln" d="M911,1219H1170M911,1252H1170M911,1285H1170M911,1318H1170M960,1219V1352"/>
<rect class="ol" x="911" y="1189" width="259" height="163" rx="10"/>
<text class="hw" x="1040.5" y="1209">Template</text>
<text class="k" x="935.5" y="1240">PK</text><text x="967" y="1240">templateId</text>
<text class="k" x="935.5" y="1273">FK1</text><text x="967" y="1273">templateTasks</text>
<text class="k" x="935.5" y="1306">FK2</text><text x="967" y="1306">onboardingProductTemplates</text>
<text class="k" x="935.5" y="1339">FK3</text><text x="967" y="1339">requiredDocumentTemplates</text>
</g>

<g id="template-task">
<rect class="tb" x="1241" y="1222" width="259" height="195" rx="10"/>
<path class="pu" d="M1241,1252V1232Q1241,1222 1251,1222H1490Q1500,1222 1500,1232V1252Z"/>
<path class="ln" d="M1241,1252H1500M1241,1285H1500M1241,1318H1500M1241,1351H1500M1241,1383H1500M1290,1252V1417"/>
<rect class="ol" x="1241" y="1222" width="259" height="195" rx="10"/>
<text class="hw" x="1370.5" y="1242">Template Task</text>
<text class="k" x="1265.5" y="1273">PK</text><text x="1297" y="1273">templateTaskId</text>
<text class="k" x="1265.5" y="1306">FK1</text><text x="1297" y="1306">templateId</text>
<text class="k" x="1265.5" y="1339">FK3</text><text x="1297" y="1339">taskRefId</text>
<text class="k" x="1265.5" y="1371">FK4</text><text x="1297" y="1371">templateTaskPrecedents</text>
<text class="k" x="1265.5" y="1404">FK5</text><text x="1297" y="1404">requiredDocumentTemplateUUID</text>
</g>

<g id="template-required-documents">
<rect class="tb" x="921" y="1414" width="239" height="129" rx="10"/>
<path class="pu" d="M921,1444V1424Q921,1414 931,1414H1150Q1160,1414 1160,1424V1444Z"/>
<path class="ln" d="M921,1444H1160M921,1477H1160M921,1510H1160M960,1444V1543"/>
<rect class="ol" x="921" y="1414" width="239" height="129" rx="10"/>
<text class="hw" x="1040.5" y="1434">Template Required Documents</text>
<text class="k" x="940.5" y="1465">PK</text><text x="967" y="1465">requiredDocumentTemplateId</text>
<text class="k" x="940.5" y="1498">FK1</text><text x="967" y="1498">templateId</text>
<text class="k" x="940.5" y="1531">FK2</text><text x="967" y="1531">requiredDocumentTemplateUUID</text>
</g>

<g id="template-products">
<rect class="tb" x="1271" y="1447" width="268" height="126" rx="10"/>
<path class="pu" d="M1271,1478V1457Q1271,1447 1281,1447H1529Q1539,1447 1539,1457V1478Z"/>
<path class="ln" d="M1271,1478H1539M1271,1510H1539M1271,1540H1539M1310,1478V1573"/>
<rect class="ol" x="1271" y="1447" width="268" height="126" rx="10"/>
<text class="hw" x="1405" y="1467">Template Products</text>
<text class="k" x="1290.5" y="1498">PK</text><text x="1317" y="1498">onboardingProductTemplateId</text>
<text class="k" x="1290.5" y="1529">FK1</text><text x="1317" y="1529">templateId</text>
<text class="k" x="1290.5" y="1561">FK2</text><text x="1317" y="1561">accountTypeProductTypeMappings</text>
</g>

<g id="template-accounts">
<rect class="tb" x="1621" y="1461" width="319" height="95" rx="10"/>
<path class="pu" d="M1621,1490V1471Q1621,1461 1631,1461H1930Q1940,1461 1940,1471V1490Z"/>
<path class="ln" d="M1621,1490H1940M1621,1523H1940M1660,1490V1556"/>
<rect class="ol" x="1621" y="1461" width="319" height="95" rx="10"/>
<text class="hw" x="1780.5" y="1480">Template Accounts</text>
<text class="k" x="1640.5" y="1511">PK</text><text x="1667" y="1511">onboardingAccountTypeProductTypeMappingId</text>
<text class="k" x="1640.5" y="1544">FK1</text><text x="1667" y="1544">onboardingProductTemplateId</text>
</g>
</svg>
